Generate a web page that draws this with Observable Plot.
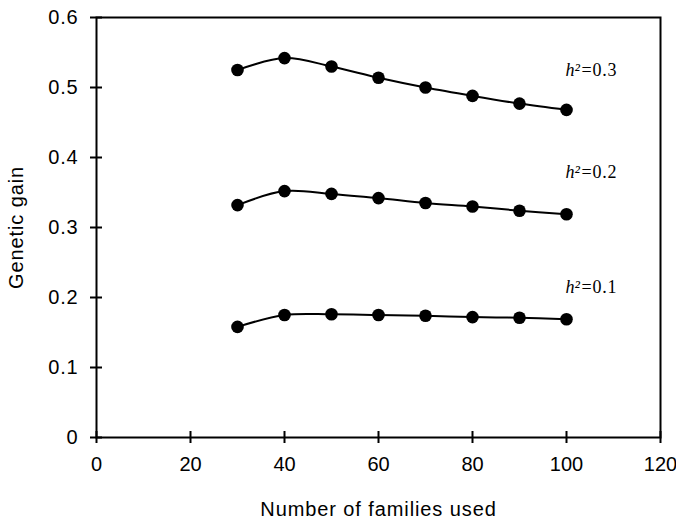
<!DOCTYPE html>
<html><head><meta charset="utf-8">
<script src="https://cdn.jsdelivr.net/npm/d3@7"></script>
<script src="https://cdn.jsdelivr.net/npm/@observablehq/plot@0.6"></script>
<style>
body{margin:0;background:#fff}
g[aria-label="x-axis label"] text, g[aria-label="y-axis label"] text {letter-spacing: 0.9px;}
g[aria-label="y-axis tick label"] text {letter-spacing: 0.8px;}
g.vals text {letter-spacing: 0.8px;}
</style>
</head><body><div id="chart"></div>
<script>
const families = [30, 40, 50, 60, 70, 80, 90, 100];
const gainH03 = [0.525, 0.542, 0.530, 0.514, 0.500, 0.488, 0.477, 0.468];
const gainH02 = [0.332, 0.352, 0.348, 0.342, 0.335, 0.330, 0.324, 0.319];
const gainH01 = [0.158, 0.175, 0.176, 0.175, 0.174, 0.172, 0.171, 0.169];
const seriesNames = ["h2=0.3", "h2=0.2", "h2=0.1"];
const labelValues = ["=0.3", "=0.2", "=0.1"];
const labelX = 99.8;
const labelY = [0.524, 0.379, 0.214];
const xTicks = [0, 20, 40, 60, 80, 100, 120];
const yTicks = [0, 0.1, 0.2, 0.3, 0.4, 0.5, 0.6];

const allSeries = [gainH03, gainH02, gainH01];
const rows = [];
allSeries.forEach((vals, i) => families.forEach((f, j) => rows.push({series: seriesNames[i], x: f, y: vals[j]})));
const labels = seriesNames.map((s, i) => ({series: s, x: labelX, y: labelY[i], text: labelValues[i]}));

const font = "'Liberation Sans', Arial, sans-serif";
const chart = Plot.plot({
  width: 676, height: 518,
  marginLeft: 96, marginRight: 16, marginTop: 17, marginBottom: 81,
  style: {fontFamily: font, fontSize: "20px", color: "black", background: "white"},
  x: {domain: [0, 120]},
  y: {domain: [0, 0.6]},
  marks: [
    Plot.axisX(xTicks, {tickSize: 12, insetBottom: 6, tickPadding: 13, strokeWidth: 2, fontSize: 20,
      label: "Number of families used", labelAnchor: "center", labelOffset: 78, labelArrow: "none"}),
    Plot.axisY(yTicks, {tickSize: 12, insetLeft: 6, tickPadding: 12, strokeWidth: 2, fontSize: 20,
      tickFormat: d => d === 0 ? "0" : d3.format(".1f")(d),
      label: "Genetic gain", labelAnchor: "center", labelOffset: 88, labelArrow: "none"}),
    Plot.frame({stroke: "black", strokeWidth: 2}),
    Plot.line(rows, {x: "x", y: "y", z: "series", stroke: "black", strokeWidth: 2, curve: "catmull-rom"}),
    Plot.dot(rows, {x: "x", y: "y", r: 6.3, fill: "black", stroke: "none"}),
    Plot.text(labels, {x: "x", y: "y", text: () => "h²", textAnchor: "start", lineAnchor: "middle",
      fontFamily: "'Liberation Serif', serif", fontStyle: "italic", fontSize: 18, fill: "black"}),
    Plot.text(labels, {x: "x", y: "y", text: "text", dx: 16, textAnchor: "start", lineAnchor: "middle",
      fontFamily: "'Liberation Serif', serif", fontSize: 18, fill: "black", className: "vals"})
  ]
});
document.getElementById("chart").appendChild(chart);
</script>
</body></html>
